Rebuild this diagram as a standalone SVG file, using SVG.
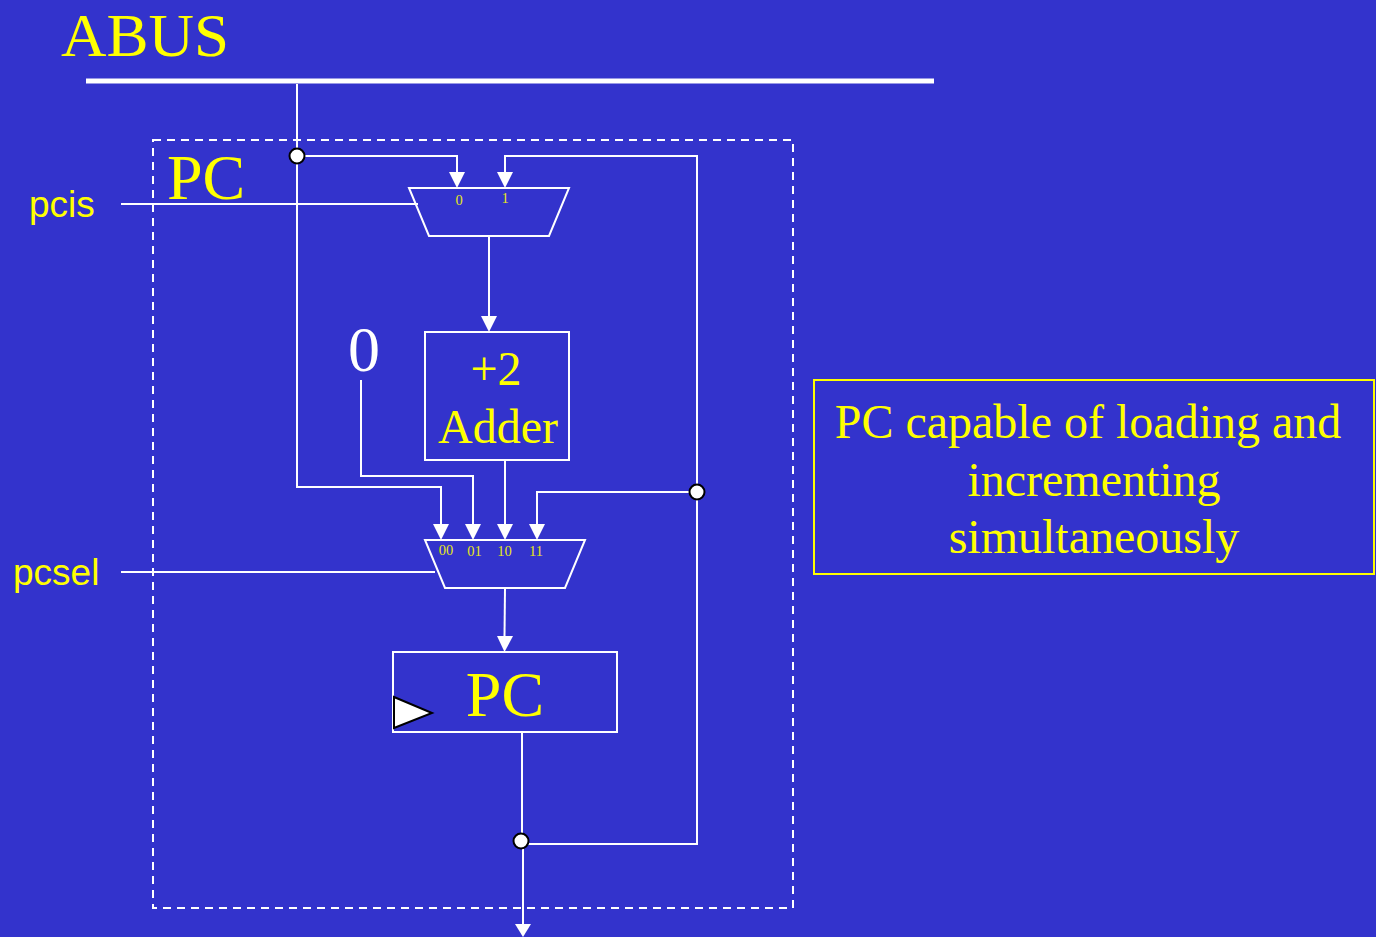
<svg xmlns="http://www.w3.org/2000/svg" width="1376" height="937" viewBox="0 0 1376 937">
<style>
.w{fill:none;stroke:#fff;stroke-width:2}
.t{font-family:"Liberation Serif",serif;fill:#ff0}
.s{font-family:"Liberation Sans",sans-serif;fill:#ff0;font-size:37px}
.m{font-family:"Liberation Serif",serif;fill:#e6e619;font-size:14.500px;text-anchor:middle}
.d{fill:#fff;stroke:#000;stroke-width:2}
.a{fill:#fff}
</style>
<rect width="1376" height="937" fill="#3333cc"/>
<text class="t" x="61" y="55.500" font-size="62" textLength="168" lengthAdjust="spacingAndGlyphs">ABUS</text>
<line x1="86" y1="81" x2="934" y2="81" stroke="#fff" stroke-width="5"/>
<rect x="153" y="140" width="640" height="768" fill="none" stroke="#fff" stroke-width="2" stroke-dasharray="8 6"/>
<text class="t" x="167" y="199" font-size="64">PC</text>
<text class="s" x="29" y="217">pcis</text>
<text class="s" x="13" y="585">pcsel</text>
<g id="connectors">
<path class="w" d="M297 84V487H441V524"/>
<path class="w" d="M297 156H457V172"/>
<path class="w" d="M697 492V156H505V172"/>
<path class="w" d="M121 204H418"/>
<path class="w" d="M489 236V316"/>
<path class="w" d="M361 380V476H473V524"/>
<path class="w" d="M505 460V524"/>
<path class="w" d="M697 492H537V524"/>
<path class="w" d="M121 572H435"/>
<path class="w" d="M505 588L504.500 636"/>
<path class="w" d="M522 732V841"/>
<path class="w" d="M523 841V924"/>
<path class="w" d="M521 844H697V492"/>
<path class="a" d="M449 172H465L457 188Z"/>
<path class="a" d="M497 172H513L505 188Z"/>
<path class="a" d="M481 316H497L489 332Z"/>
<path class="a" d="M433 524H449L441 540Z"/>
<path class="a" d="M465 524H481L473 540Z"/>
<path class="a" d="M497 524H513L505 540Z"/>
<path class="a" d="M529 524H545L537 540Z"/>
<path class="a" d="M497 636H513L504.500 652Z"/>
<path class="a" d="M515 924H531L523 937Z"/>
</g>
<g id="mux1">
<path class="w" d="M409 188H569L549 236H429Z"/>
<text class="m" x="459" y="205">0</text>
<text class="m" x="505" y="203">1</text>
</g>
<g id="adder">
<rect class="w" x="425" y="332" width="144" height="128"/>
<text class="t" x="496" y="385" font-size="48" text-anchor="middle">+2</text>
<text class="t" x="498" y="443" font-size="48" text-anchor="middle">Adder</text>
</g>
<text x="364" y="371" font-family="Liberation Serif,serif" font-size="64" fill="#fff" text-anchor="middle">0</text>
<g id="mux2">
<path class="w" d="M425 540H585L565 588H445Z"/>
<text class="m" x="446" y="555">00</text>
<text class="m" x="474.500" y="556">01</text>
<text class="m" x="504.500" y="556">10</text>
<text class="m" x="536" y="556">11</text>
</g>
<g id="pc">
<rect class="w" x="393" y="652" width="224" height="80"/>
<text class="t" x="505" y="716" font-size="64" text-anchor="middle">PC</text>
<path class="d" d="M394 697L432 713L394 728Z"/>
</g>
<g id="dots">
<circle class="d" cx="297" cy="156" r="7.500"/>
<circle class="d" cx="697" cy="492" r="7.500"/>
<circle class="d" cx="521" cy="841" r="7.500"/>
</g>
<g id="note">
<rect x="814" y="380" width="560" height="194" fill="none" stroke="#ff0" stroke-width="2"/>
<text class="t" x="1088" y="438" font-size="48" text-anchor="middle">PC capable of loading and</text>
<text class="t" x="1094" y="496" font-size="48" text-anchor="middle">incrementing</text>
<text class="t" x="1094" y="553" font-size="48" text-anchor="middle">simultaneously</text>
</g>
</svg>
